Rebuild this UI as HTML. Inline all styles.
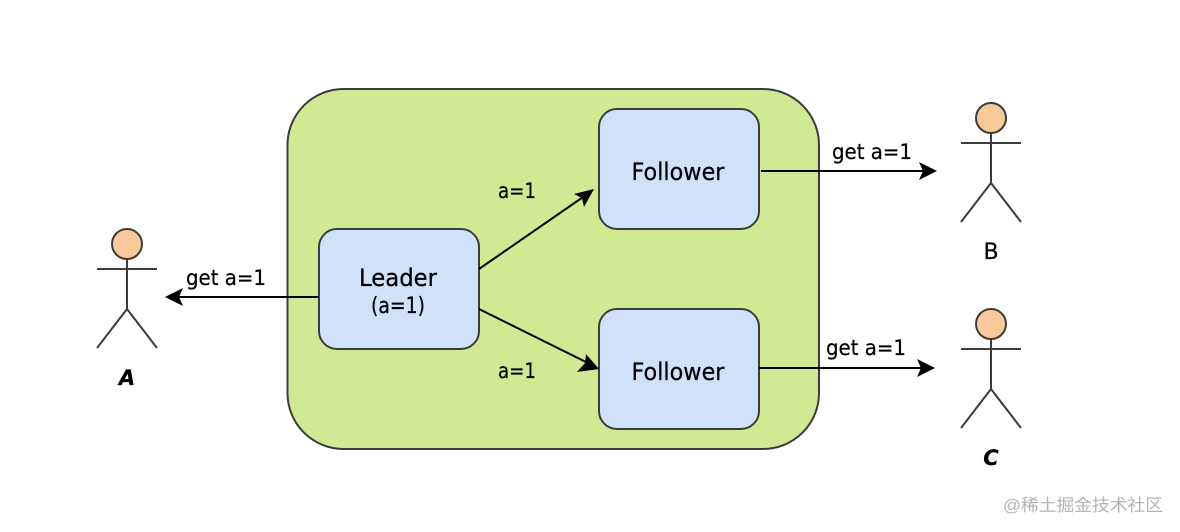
<!DOCTYPE html>
<html>
<head>
<meta charset="utf-8">
<style>
html,body{margin:0;padding:0;background:#fff;width:1180px;height:532px;overflow:hidden}
svg{display:block}
text{font-family:"DejaVu Sans","Liberation Sans",sans-serif;font-size:21px;fill:#000;stroke:#000;stroke-width:.25;text-anchor:middle}
text.big{font-size:24px}
text.mid{font-size:22px}
</style>
</head>
<body>
<svg width="1180" height="532" viewBox="0 0 1180 532" xmlns="http://www.w3.org/2000/svg">
<rect width="1180" height="532" fill="#fff"/>
<rect x="287.5" y="89" width="531.5" height="360" rx="56" fill="#d2e994" stroke="#3c3c3c" stroke-width="2"/>
<rect x="319" y="229" width="160" height="120" rx="18" fill="#cfe2fa" stroke="#3c3c3c" stroke-width="2"/>
<rect x="599" y="109" width="160" height="120" rx="18" fill="#cfe2fa" stroke="#3c3c3c" stroke-width="2"/>
<rect x="599" y="309" width="160" height="120" rx="18" fill="#cfe2fa" stroke="#3c3c3c" stroke-width="2"/>

<g stroke="#000" stroke-width="2" fill="none">
<path d="M319 297H176"/>
<path d="M761 171H926"/>
<path d="M759 368H925"/>
<path d="M479 269L586 195"/>
<path d="M479 309L590 364"/>
</g>
<g fill="#000">
<path d="M165 297L183 288L179 297L183 306Z"/>
<path d="M937 171L919 162L923 171L919 180Z"/>
<path d="M935 368L917 359L921 368L917 377Z"/>
<path d="M594 189L574 194L582 198L584 207Z"/>
<path d="M599 369L586 354L585 363L577 372Z"/>
</g>

<g stroke="#3c3c3c" stroke-width="2" fill="none">
<circle cx="127" cy="244" r="15" fill="#f8c99a"/>
<path d="M127 259V309M97 269H157M127 309L97 348M127 309L157 348"/>
<circle cx="991" cy="118" r="15" fill="#f8c99a"/>
<path d="M991 133V183M961 143H1021M991 183L961 222M991 183L1021 222"/>
<circle cx="991" cy="324" r="15" fill="#f8c99a"/>
<path d="M991 339V389M961 349H1021M991 389L961 428M991 389L1021 428"/>
</g>

<text class="big" x="398" y="286" textLength="78" lengthAdjust="spacingAndGlyphs">Leader</text>
<text class="mid" x="398" y="313" textLength="54" lengthAdjust="spacingAndGlyphs">(a=1)</text>
<text class="big" x="678" y="180" textLength="93" lengthAdjust="spacingAndGlyphs">Follower</text>
<text class="big" x="678" y="380" textLength="93" lengthAdjust="spacingAndGlyphs">Follower</text>
<text x="226" y="285" textLength="80" lengthAdjust="spacingAndGlyphs">get a=1</text>
<text x="872" y="159" textLength="80" lengthAdjust="spacingAndGlyphs">get a=1</text>
<text x="866" y="355" textLength="80" lengthAdjust="spacingAndGlyphs">get a=1</text>
<text x="517" y="198" textLength="38" lengthAdjust="spacingAndGlyphs">a=1</text>
<text x="517" y="378" textLength="38" lengthAdjust="spacingAndGlyphs">a=1</text>
<text x="127" y="385" font-style="italic" font-weight="bold">A</text>
<text x="991" y="259" class="mid">B</text>
<text x="991" y="465" font-style="italic" font-weight="bold">C</text>
<text x="1083" y="511" textLength="160" lengthAdjust="spacingAndGlyphs" style="font-family:'Liberation Sans','Noto Sans CJK SC',sans-serif;font-size:17px;fill:#b4b4b4;stroke:none">@稀土掘金技术社区</text>
</svg>
</body>
</html>
